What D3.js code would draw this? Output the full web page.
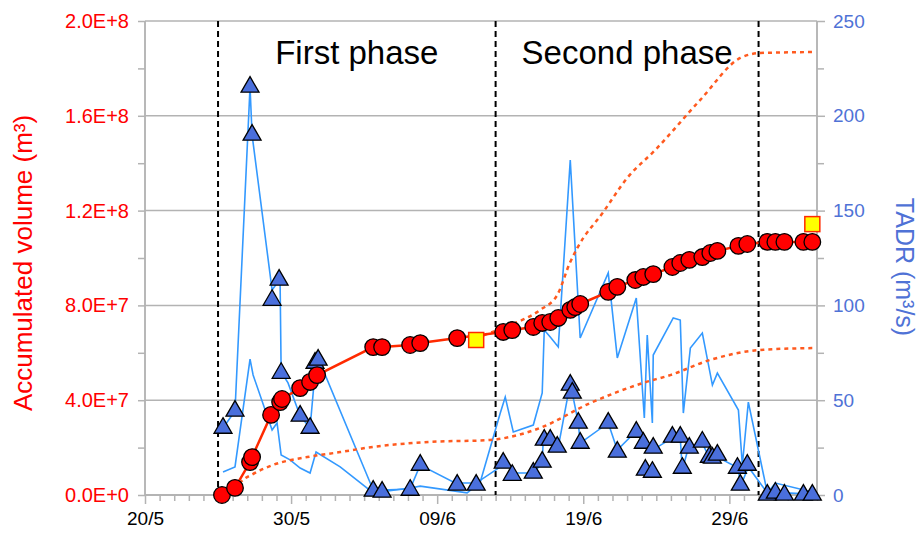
<!DOCTYPE html>
<html><head><meta charset="utf-8">
<script src="https://cdn.jsdelivr.net/npm/d3@7"></script>
<style>body{margin:0;background:#fff}svg{display:block}text{font-family:"Liberation Sans",Arial,sans-serif}</style>
</head><body><svg id="c" width="918" height="536"></svg>
<script>
// x values are days after 20/5
const xTickDays = [0, 10, 20, 30, 40];
const volTicks = [0, 4e7, 8e7, 1.2e8, 1.6e8, 2.0e8];
const tadrTicks = [0, 50, 100, 150, 200, 250];
const phaseBounds = [5, 24, 42];
const phaseLabels = ["First phase", "Second phase"];
const phaseLabelDays = [14.5, 33];

// accumulated volume (m3, in millions)
const volDays = [5.27,6.16,7.19,7.33,8.63,9.25,9.38,10.62,11.30,11.78,15.62,16.23,18.15,18.84,21.37,24.52,25.14,26.58,27.19,27.74,28.29,29.11,29.45,29.79,31.71,32.33,33.56,34.11,34.79,36.10,36.64,37.26,38.15,38.70,39.18,40.62,41.23,42.60,43.15,43.77,45.07,45.68];
const volValues = [0,3.0,13.9,16.0,33.8,39.2,40.5,45.1,47.7,50.6,62.4,62.4,63.3,64.1,66.2,68.8,69.6,70.9,72.6,73.0,74.7,78.1,79.3,80.6,85.7,87.8,90.7,92.0,93.2,96.2,97.9,99.2,100.4,102.1,103.0,105.1,105.9,106.8,106.8,106.8,106.8,106.8];

// reference volumes (yellow squares)
const refDays = [22.67, 45.68];
const refValues = [65.4, 114.3];

// dotted envelope curves (millions of m3)
const lowDays = [6.16,6.51,7.53,8.77,11.10,13.36,15.62,19.52,23.63,25.0,27.05,30.48,34.11,35.96,38.70,42.12,45.68];
const lowValues = [2.1,5.1,9.3,12.7,16.0,18.1,20.3,22.4,23.2,24.5,28.3,38.8,47.3,50.6,57.0,61.2,62.0];
const highDays = [22.67,23.63,25.0,27.05,28.22,29.11,29.59,31.37,33.01,34.93,38.01,40.75,42.12,45.68];
const highValues = [66.2,68.4,71.7,78.1,84.4,98.3,104.2,119.4,133.8,145.6,166.7,184.4,186.5,186.9];

// TADR points (triangles)
const tadrDays = [5.34,6.16,7.19,7.33,8.70,9.18,9.32,10.62,11.30,11.64,11.85,15.62,16.23,18.15,18.84,21.37,22.67,24.52,25.14,26.58,27.19,27.33,27.74,28.22,29.11,29.25,29.66,29.79,31.71,32.33,33.63,34.11,34.25,34.73,34.79,36.10,36.64,36.78,37.26,38.15,38.63,38.84,39.18,40.55,40.75,41.23,42.60,43.15,43.77,45.07,45.68];
const tadrValues = [35.3,44.3,215.2,189.9,102.8,113.4,64.3,41.7,35.3,69.6,71.2,2.1,1.6,2.6,15.8,5.3,5.3,16.9,10.5,11.6,17.4,29.0,29.0,25.3,58.0,53.8,38.0,27.4,38.0,22.7,33.2,27.4,13.2,12.1,24.8,30.6,30.6,14.2,24.8,28.0,20.0,19.5,21.1,14.2,5.3,15.8,0,1.1,0,0,0];

// TADR line A
const lineADays = [5.34,6.16,7.19,7.33,8.70,9.04,9.25,9.32,9.79,10.62,11.30,11.71,11.85,15.62,16.23,18.15,18.84,21.23,22.67,24.32,24.66,25.21,26.58,27.19,27.26,27.74,28.29,29.11,29.66,29.79,31.71,32.33,33.70,34.11,34.73,36.10,36.64,36.78,37.19,38.15,38.70,39.18,40.62,40.75,41.30,42.60,43.77,45.68];
const lineAValues = [35.3,44.3,215.2,189.9,108.1,111.8,110.8,64.9,59.1,41.7,35.3,71.2,72.3,2.6,2.6,3.2,15.8,6.3,6.3,14.8,17.4,11.6,11.6,16.9,29.0,30.6,25.3,59.1,38.0,27.4,38.0,23.7,34.3,25.3,23.7,30.1,30.1,13.2,24.8,27.4,18.5,20.0,14.2,4.2,14.8,1.1,1.1,0.5];

// TADR line B
const lineBDays = [5.34,6.16,7.19,7.40,8.70,9.04,9.32,9.93,10.62,11.30,11.71,13.36,15.62,18.15,18.84,22.05,22.95,24.32,24.66,25.21,26.58,27.19,27.33,27.74,28.29,29.11,29.79,31.71,32.33,33.63,34.18,34.38,34.73,34.79,36.16,36.64,36.85,37.33,38.15,38.84,39.18,40.62,40.89,41.30,42.60,43.15,45.68];
const lineBValues = [12.1,14.8,71.7,63.3,34.3,38.0,21.1,18.5,14.2,11.6,22.7,14.8,1.1,3.7,4.7,1.1,6.9,43.2,51.7,33.2,36.9,53.8,87.0,83.3,78.1,176.7,82.8,117.1,72.3,103.9,40.6,84.4,38.0,73.8,93.4,92.3,43.2,77.5,85.4,58.0,64.3,44.8,15.8,49.0,1.1,6.3,1.6];

const svg = d3.select("#c");
const L = 145, R = 817, T = 21, B = 495;
const x = d3.scaleLinear().domain([0, 46]).range([L, R]);
const yV = d3.scaleLinear().domain([0, 2e8]).range([B, T]);
const yT = d3.scaleLinear().domain([0, 250]).range([B, T]);
const base = Date.UTC(2021, 4, 20);
const fmtDate = d => d3.utcFormat("%d/%-m")(new Date(base + d * 864e5));
const grey = "#b3b3b3", red = "#ff0000", blue = "#4f72d6";
const FF = '"Liberation Sans",Arial,sans-serif';

// gridlines
svg.append("g").selectAll("line").data(volTicks).join("line")
  .attr("x1", L).attr("x2", R).attr("y1", d => yV(d)).attr("y2", d => yV(d))
  .attr("stroke", grey).attr("stroke-width", 1.5);

// left axis
const gl = svg.append("g").attr("transform", `translate(${L},0)`)
  .call(d3.axisLeft(yV).tickValues(volTicks).tickSize(7).tickPadding(9)
    .tickFormat(d => d3.format(".1e")(d).replace("e+", "E+").toUpperCase()));
gl.append("g").call(d3.axisLeft(yV).tickValues(d3.range(2e7, 2e8, 4e7)).tickSize(7).tickFormat(""));
gl.selectAll("path,line").attr("stroke", grey).attr("stroke-width", 1.5);
gl.selectAll(".domain").attr("d", `M0,${T}V${B}`);
gl.selectAll("text").attr("fill", red).attr("font-size", 20).attr("font-family", FF);

// right axis
const gr = svg.append("g").attr("transform", `translate(${R},0)`)
  .call(d3.axisRight(yT).tickValues(tadrTicks).tickSize(8).tickPadding(8));
gr.append("g").call(d3.axisRight(yT).tickValues(d3.range(25, 250, 50)).tickSize(7).tickFormat(""));
gr.selectAll("path,line").attr("stroke", grey).attr("stroke-width", 1.5);
gr.selectAll(".domain").attr("d", `M0,${T}V${B}`);
gr.selectAll("text").attr("fill", blue).attr("font-size", 19).attr("font-family", FF);

// bottom axis
const gb = svg.append("g").attr("transform", `translate(0,${B})`)
  .call(d3.axisBottom(x).tickValues(xTickDays).tickSize(9).tickPadding(8).tickFormat(fmtDate));
gb.append("g").call(d3.axisBottom(x).tickValues(d3.range(0, 47).filter(d => d % 10)).tickSize(6).tickFormat(""));
gb.selectAll("path,line").attr("stroke", grey).attr("stroke-width", 1.5);
gb.selectAll(".domain").attr("d", `M${L},0H${R}`);
gb.selectAll("text").attr("fill", "#000").attr("font-size", 19).attr("font-family", FF);

// axis titles
svg.append("text").attr("transform", `translate(32,263) rotate(-90)`).attr("text-anchor", "middle")
  .attr("fill", red).attr("font-size", 26).text("Accumulated volume (m³)");
svg.append("text").attr("transform", `translate(896,267) rotate(90)`).attr("text-anchor", "middle")
  .attr("fill", blue).attr("font-size", 25).text("TADR (m³/s)");

// phase boundaries
svg.append("g").selectAll("line").data(phaseBounds).join("line")
  .attr("x1", d => x(d)).attr("x2", d => x(d)).attr("y1", T).attr("y2", B)
  .attr("stroke", "#000").attr("stroke-width", 2).attr("stroke-dasharray", "6,4");

svg.append("g").selectAll("text").data(phaseLabels).join("text")
  .attr("x", (d, i) => x(phaseLabelDays[i])).attr("y", 64).attr("text-anchor", "middle")
  .attr("font-size", 33).attr("fill", "#000").text(d => d);

// TADR lines
const lineT = d3.line().x(d => x(d[0])).y(d => yT(d[1]));
[[lineADays, lineAValues], [lineBDays, lineBValues]].forEach(([ds, vs]) => {
  svg.append("path").datum(ds.map((d, i) => [d, vs[i]])).attr("d", lineT)
    .attr("fill", "none").attr("stroke", "#3399ff").attr("stroke-width", 1.6);
});

// triangles
const tri = d3.symbol().type(d3.symbolTriangle).size(140);
svg.append("g").selectAll("path").data(tadrDays.map((d, i) => [d, tadrValues[i]])).join("path")
  .attr("transform", d => `translate(${x(d[0])},${yT(d[1])})`).attr("d", tri)
  .attr("fill", "#4a6fdc").attr("stroke", "#000").attr("stroke-width", 1.3);

// dotted envelopes
const lineV = d3.line().curve(d3.curveMonotoneX).x(d => x(d[0])).y(d => yV(d[1] * 1e6));
[[lowDays, lowValues], [highDays, highValues]].forEach(([ds, vs]) => {
  svg.append("path").datum(ds.map((d, i) => [d, vs[i]])).attr("d", lineV)
    .attr("fill", "none").attr("stroke", "#ff5a1f").attr("stroke-width", 2.5).attr("stroke-dasharray", "4,4");
});

// accumulated volume line and circles
const volData = volDays.map((d, i) => [d, volValues[i]]);
svg.append("path").datum(volData).attr("d", d3.line().x(d => x(d[0])).y(d => yV(d[1] * 1e6)))
  .attr("fill", "none").attr("stroke", "#ff2a00").attr("stroke-width", 2.5);
svg.append("g").selectAll("circle").data(volData).join("circle")
  .attr("cx", d => x(d[0])).attr("cy", d => yV(d[1] * 1e6)).attr("r", 8.3)
  .attr("fill", "#ff0000").attr("stroke", "#000").attr("stroke-width", 1.3);

// reference squares
svg.append("g").selectAll("rect").data(refDays.map((d, i) => [d, refValues[i]])).join("rect")
  .attr("x", d => x(d[0]) - 7.5).attr("y", d => yV(d[1] * 1e6) - 7.5).attr("width", 15).attr("height", 15)
  .attr("fill", "#ffff00").attr("stroke", "#ff2a00").attr("stroke-width", 1.5);
</script>
</body></html>
